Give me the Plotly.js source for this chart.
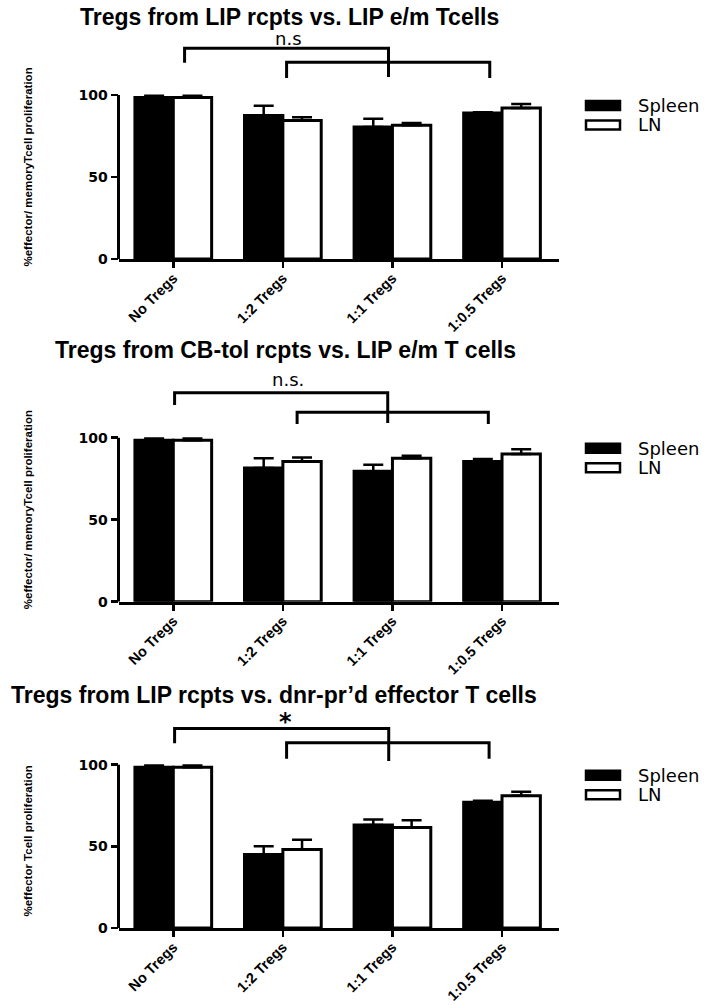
<!DOCTYPE html>
<html>
<head>
<meta charset="utf-8">
<script src="https://cdn.plot.ly/plotly-3.0.1.min.js"></script>
<style>html,body{margin:0;padding:0;background:#fff;}#chart{width:716px;height:1005px;}</style>
</head>
<body>
<div id="chart"></div>
<script>
// ---------- data ----------
const categories = ['No Tregs', '1:2 Tregs', '1:1 Tregs', '1:0.5 Tregs'];
const seriesNames = ['Spleen', 'LN'];

const titles = [
  'Tregs from LIP rcpts vs. LIP e/m Tcells',
  'Tregs from CB-tol rcpts vs. LIP e/m T cells',
  'Tregs from LIP rcpts vs. dnr-pr\u2019d effector T cells'
];
const yTitles = [
  '%effector/ memoryTcell proliferation',
  '%effector/ memoryTcell proliferation',
  '%effector Tcell proliferation'
];
const sigLabels = ['n.s', 'n.s.', '*'];
const yTickVals = [0, 50, 100];

const p1Spleen = [98.5, 87.5, 80.5, 89];
const p1SpleenErr = [1, 6, 5, 0.5];
const p1LN = [98.5, 84.5, 81.5, 92];
const p1LNErr = [1, 2, 1.5, 2.5];

const p2Spleen = [98.5, 81.5, 79.5, 85.5];
const p2SpleenErr = [1, 6, 4, 1.5];
const p2LN = [98.5, 85.5, 87.5, 90];
const p2LNErr = [1, 2.5, 1.5, 3];

const p3Spleen = [98.5, 45, 63, 77];
const p3SpleenErr = [1, 5, 3.5, 1];
const p3LN = [98.5, 48, 61.5, 81];
const p3LNErr = [1, 6, 4.5, 2.5];

// ---------- layout helpers ----------
const W = 716, H = 1005;
const px = p => p / W;
const py = p => 1 - p / H;
const YMAX = 140;
const X0 = 118.5, X1 = 559;

const panels = [
  {sp: p1Spleen, spE: p1SpleenErr, ln: p1LN, lnE: p1LNErr, y0: 259, y100: 95,
   titleX: 78, titleY: 16.5,
   br: {l: 0.103, m: 1.964, a: 1.034, b: 2.888, top: 128.5, lb: 119.7, mb: 111, top2: 119.9, b2: 110.4, lab: 134.6, labX: 1.05}},
  {sp: p2Spleen, spE: p2SpleenErr, ln: p2LN, lnE: p2LNErr, y0: 601.7, y100: 437.7,
   titleX: 53, titleY: 350,
   br: {l: 0.012, m: 1.957, a: 1.13, b: 2.875, top: 127.4, lb: 119.9, mb: 109, top2: 115.5, b2: 108.4, lab: 135.2, labX: 1.05}},
  {sp: p3Spleen, spE: p3SpleenErr, ln: p3LN, lnE: p3LNErr, y0: 928, y100: 764.7,
   titleX: 9, titleY: 695,
   br: {l: 0.012, m: 1.966, a: 1.034, b: 2.882, top: 122.2, lb: 113.1, mb: 102.3, top2: 113.5, b2: 103.7, lab: 126, labX: 1.02}}
];

const traces = [];
const layout = {
  width: W, height: H,
  margin: {l: 0, r: 0, t: 0, b: 0},
  paper_bgcolor: '#fff', plot_bgcolor: 'rgba(0,0,0,0)',
  showlegend: false,
  barmode: 'group', bargap: 0.3, bargroupgap: 0,
  shapes: [], annotations: []
};

panels.forEach((p, i) => {
  const n = i === 0 ? '' : String(i + 1);
  const xa = 'x' + n, ya = 'y' + n;
  const s = (p.y0 - p.y100) / 100;
  const topPx = p.y0 - YMAX * s;

  const common = {type: 'bar', x: categories, xaxis: xa, yaxis: ya, cliponaxis: false};
  traces.push(Object.assign({}, common, {
    name: seriesNames[0], y: p.sp,
    marker: {color: '#000', line: {color: '#000', width: 3}},
    error_y: {type: 'data', symmetric: false, array: p.spE, arrayminus: p.spE.map(() => 0),
              color: '#000', thickness: 2.5, width: 10}
  }));
  traces.push(Object.assign({}, common, {
    name: seriesNames[1], y: p.ln,
    marker: {color: '#fff', line: {color: '#000', width: 3}},
    error_y: {type: 'data', symmetric: false, array: p.lnE, arrayminus: p.lnE.map(() => 0),
              color: '#000', thickness: 2.5, width: 10}
  }));

  layout['xaxis' + n] = {
    domain: [px(X0), px(X1)], anchor: ya, type: 'category',
    range: [-0.5, 3.52], fixedrange: true,
    showline: true, linewidth: 3, linecolor: '#000',
    ticks: 'outside', ticklen: 6, tickwidth: 2.5, tickcolor: '#000',
    tickangle: -45, ticklabelstandoff: -4, showgrid: false, zeroline: false,
    tickfont: {family: 'Liberation Sans, Arial, sans-serif', size: 14.5, color: '#000', weight: 'bold'}
  };
  layout['yaxis' + n] = {
    domain: [py(p.y0), py(topPx)], anchor: xa,
    range: [0, YMAX], fixedrange: true,
    showline: false, showgrid: false, zeroline: false,
    tickvals: yTickVals, ticks: 'outside', ticklen: 7, tickwidth: 2.5, tickcolor: '#000',
    tickfont: {family: 'DejaVu Sans, sans-serif', size: 14, color: '#000', weight: 'bold'}
  };

  // y axis line (0..100 only)
  layout.shapes.push({type: 'line', xref: 'paper', yref: ya, x0: px(X0), x1: px(X0), y0: 0, y1: 100,
    line: {color: '#000', width: 3}});

  // significance brackets
  const b = p.br;
  layout.shapes.push({type: 'path', xref: xa, yref: ya,
    path: `M ${b.l},${b.lb} L ${b.l},${b.top} L ${b.m},${b.top} L ${b.m},${b.mb}`,
    line: {color: '#000', width: 3}});
  layout.shapes.push({type: 'path', xref: xa, yref: ya,
    path: `M ${b.a},${b.b2} L ${b.a},${b.top2} L ${b.b},${b.top2} L ${b.b},${b.b2}`,
    line: {color: '#000', width: 3}});
  layout.annotations.push({xref: xa, yref: ya, x: b.labX, y: b.lab, text: sigLabels[i], showarrow: false,
    xanchor: 'center', yanchor: 'middle',
    font: {family: 'DejaVu Sans, sans-serif', size: i === 2 ? 24 : 18, color: '#000', weight: i === 2 ? 'bold' : 'normal'}});

  // title
  layout.annotations.push({xref: 'paper', yref: 'paper', x: px(p.titleX), y: py(p.titleY), text: titles[i],
    showarrow: false, xanchor: 'left', yanchor: 'middle',
    font: {family: 'Liberation Sans, Arial, sans-serif', size: 23, color: '#000', weight: 'bold'}});

  // y-axis title
  layout.annotations.push({xref: 'paper', yref: 'paper', x: px(27.5), y: py(i === 2 ? 841 : p.y100 + 72),
    text: yTitles[i], textangle: -90, showarrow: false, xanchor: 'center', yanchor: 'middle',
    font: {family: 'Liberation Sans, Arial, sans-serif', size: 11.5, color: '#000', weight: 'bold'}});

  // legend (drawn)
  const lx0 = 586, lx1 = 620;
  layout.shapes.push({type: 'rect', xref: 'paper', yref: 'paper', x0: px(lx0), x1: px(lx1),
    y0: py(p.y100 + 6), y1: py(p.y100 + 15), fillcolor: '#000', line: {color: '#000', width: 2.5}});
  layout.shapes.push({type: 'rect', xref: 'paper', yref: 'paper', x0: px(lx0), x1: px(lx1),
    y0: py(p.y100 + 25.5), y1: py(p.y100 + 34.5), fillcolor: '#fff', line: {color: '#000', width: 2.5}});
  layout.annotations.push({xref: 'paper', yref: 'paper', x: px(636), y: py(p.y100 + 10.5), text: seriesNames[0],
    showarrow: false, xanchor: 'left', yanchor: 'middle',
    font: {family: 'DejaVu Sans, sans-serif', size: 18, color: '#000'}});
  layout.annotations.push({xref: 'paper', yref: 'paper', x: px(636), y: py(p.y100 + 30), text: seriesNames[1],
    showarrow: false, xanchor: 'left', yanchor: 'middle',
    font: {family: 'DejaVu Sans, sans-serif', size: 18, color: '#000'}});
});

Plotly.newPlot('chart', traces, layout, {staticPlot: true, displayModeBar: false});
</script>
</body>
</html>
